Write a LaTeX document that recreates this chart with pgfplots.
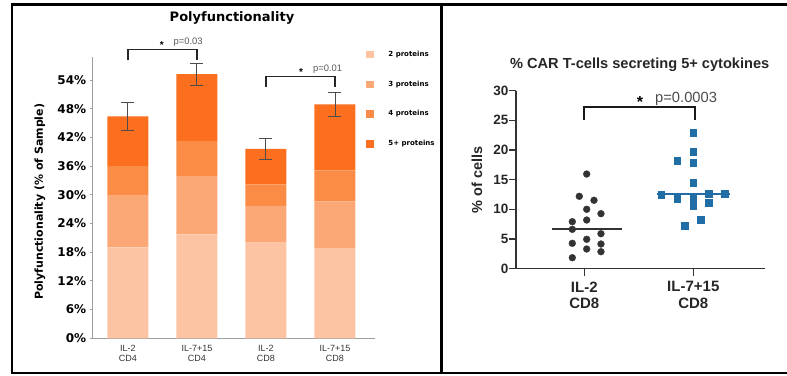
\documentclass[border=0pt]{standalone}
\usepackage{pgfplots}
\pgfplotsset{compat=1.18}
\usepackage{fontspec}
\setmainfont{Liberation Sans}
\newfontfamily\dv{DejaVu Sans}
\definecolor{pA}{HTML}{FDC4A4}
\definecolor{pB}{HTML}{FBA876}
\definecolor{pC}{HTML}{FB8C45}
\definecolor{pD}{HTML}{FB6F1E}
\definecolor{sq}{HTML}{216DA6}
\definecolor{dk}{HTML}{333333}
\pgfplotsset{every axis title shift=0pt}
\begin{document}
\begin{tikzpicture}[x=1pt,y=1pt]
\path[use as bounding box] (0pt,0pt) rectangle (787pt,375pt);
% frames
\draw[line width=2.4pt] (12pt,2pt) rectangle (441.3pt,370.3pt);
\draw[line width=2.4pt] (441.3pt,370.3pt) -- (800pt,370.3pt);
\draw[line width=2.4pt] (441.3pt,2pt) -- (800pt,2pt);

% ---------------- left panel ----------------
\begin{axis}[
  at={(92.7pt,36.7pt)}, anchor=south west, scale only axis,
  width=282.3pt, height=281.3pt,
  xmin=-0.51, xmax=3.58, ymin=0, ymax=58.8,
  ybar stacked, bar width=41pt,
  axis x line*=bottom, axis y line*=left,
  axis line style={-, draw=gray!75, line width=0.8pt},
  xtick={0,1,2,3},
  xticklabels={{IL-2\\CD4},{IL-7+15\\CD4},{IL-2\\CD8},{IL-7+15\\CD8}},
  xticklabel style={align=center, font=\fontsize{9}{10.7}\selectfont, text=black!80},
  major x tick style={draw=none},
  ytick={0,6,12,18,24,30,36,42,48,54},
  yticklabels={0\%,6\%,12\%,18\%,24\%,30\%,36\%,42\%,48\%,54\%},
  yticklabel style={font=\dv\bfseries\fontsize{12}{14}\selectfont},
  major y tick style={draw=gray!75, line width=0.8pt},
  tick align=outside, major tick length=3pt,
  clip=false,
  title={Polyfunctionality},
  title style={at={(rel axis cs:0.4934,1.1387)}, anchor=center, font=\dv\bfseries\fontsize{13}{15}\selectfont},
  ylabel={Polyfunctionality (\% of Sample)},
  ylabel style={at={(rel axis cs:-0.1867,0.485)}, anchor=center, font=\dv\bfseries\fontsize{11}{13}\selectfont},
  legend style={at={(rel axis cs:0.968,1.0228)}, anchor=north west, draw=none, fill=none,
    inner sep=0pt, row sep=22.4pt, column sep=0pt,
    nodes={inner sep=0pt, anchor=west},
    font=\dv\bfseries\fontsize{7}{8}\selectfont},
  legend cell align=left,
  legend image code/.code={\fill[#1,draw=none] (0pt,-3.7pt) rectangle (7.4pt,3.7pt);\path (22.3pt,0pt);},
]
\addplot[fill=pA, draw=none] coordinates {(0,19.0) (1,21.7) (2,20.0) (3,18.9)};
\addlegendentry{2 proteins}
\addplot[fill=pB, draw=none] coordinates {(0,11.0) (1,12.2) (2,7.7) (3,9.7)};
\addlegendentry{3 proteins}
\addplot[fill=pC, draw=none] coordinates {(0,6.0) (1,7.3) (2,4.5) (3,6.5)};
\addlegendentry{4 proteins}
\addplot[fill=pD, draw=none] coordinates {(0,10.4) (1,14.0) (2,7.4) (3,13.8)};
\addlegendentry{5+ proteins}
% significance brackets
\draw[line width=1.3pt, black!85] (axis cs:0,58.1) -- (axis cs:0,60.3) -- (axis cs:1,60.3) -- (axis cs:1,58.1);
\node[font=\bfseries\fontsize{10}{12}\selectfont, anchor=center] at (axis cs:0.49,61.3) {*};
\node[font=\fontsize{9.4}{11}\selectfont, text=black!65, anchor=west, inner sep=0pt] at (axis cs:0.66,61.9) {p=0.03};
\draw[line width=1.3pt, black!85] (axis cs:2,52.6) -- (axis cs:2,54.7) -- (axis cs:3,54.7) -- (axis cs:3,52.6);
\node[font=\bfseries\fontsize{10}{12}\selectfont, anchor=center] at (axis cs:2.51,55.7) {*};
\node[font=\fontsize{9.4}{11}\selectfont, text=black!65, anchor=west, inner sep=0pt] at (axis cs:2.68,56.3) {p=0.01};
\end{axis}

% error bars overlay
\begin{axis}[
  at={(92.7pt,36.7pt)}, anchor=south west, scale only axis,
  width=282.3pt, height=281.3pt,
  xmin=-0.51, xmax=3.58, ymin=0, ymax=58.8,
  hide axis, clip=false,
]
\addplot[draw=none, mark=none,
  error bars/.cd, y dir=both, y explicit,
  error bar style={draw=black!70, line width=0.9pt},
  error mark options={draw=black!70, line width=0.9pt, mark size=6.5pt, rotate=90}]
  coordinates {(0,46.4) +- (0,2.9) (1,55.2) +- (0,2.25) (2,39.6) +- (0,2.2) (3,48.9) +- (0,2.55)};
\end{axis}

% ---------------- right panel ----------------
\begin{axis}[
  at={(516pt,106.5pt)}, anchor=south west, scale only axis,
  width=249pt, height=177.8pt,
  xmin=0.3734, xmax=2.658, ymin=0, ymax=30,
  axis x line*=bottom, axis y line*=left,
  axis line style={-, draw=black!80, line width=1.3pt},
  xtick={1,2}, xticklabels={{IL-2\\CD8},{IL-7+15\\CD8}},
  xticklabel style={align=center, font=\bfseries\fontsize{15}{16.3}\selectfont, text=black!85, yshift=-2.5pt},
  ytick={0,5,10,15,20,25,30}, yticklabels={0,5,10,15,20,25,30},
  yticklabel style={font=\bfseries\fontsize{13.5}{15}\selectfont, text=black!85, xshift=3pt},
  tick align=outside, major tick length=7pt,
  tick style={draw=black!80, line width=1.3pt},
  clip=false,
  title={\% CAR T-cells secreting 5+ cytokines},
  title style={at={(rel axis cs:0.4968,1.1445)}, anchor=center, font=\bfseries\fontsize{14.6}{16}\selectfont, text=black!85},
  ylabel={\% of cells},
  ylabel style={at={(rel axis cs:-0.1566,0.5)}, anchor=center, font=\bfseries\fontsize{14.5}{16}\selectfont, text=black!85},
]
\addplot[only marks, mark=*, mark size=3.4pt, mark options={fill=dk, draw=dk}] coordinates {
 (1.022,15.94) (0.954,12.18) (1.089,11.51) (1.022,9.99) (1.153,9.25)
 (0.890,7.90) (1.022,8.18) (0.890,6.61) (1.153,5.87) (0.890,4.25)
 (1.022,4.93) (1.153,4.13) (1.022,3.29) (1.153,2.83) (0.890,1.82)};
\addplot[dk, line width=1.4pt] coordinates {(0.70,6.65) (1.35,6.65)};
\addplot[only marks, mark=square*, mark size=3.4pt, mark options={fill=sq, draw=sq}] coordinates {
 (2.0,22.91) (2.0,19.71) (1.853,18.19) (2.0,17.80) (2.0,14.48)
 (1.706,12.45) (1.853,11.84) (2.0,12.01) (2.144,12.57) (2.0,10.66)
 (2.144,11.10) (2.07,8.18) (1.921,7.22) (2.29,12.57)};
\addplot[sq, line width=1.4pt] coordinates {(1.664,12.57) (2.336,12.57)};
\draw[line width=1.7pt, black!90] (axis cs:1,25.05) -- (axis cs:1,27.3) -- (axis cs:2.016,27.3) -- (axis cs:2.016,25.05);
\node[font=\bfseries\fontsize{16}{17}\selectfont, anchor=center] at (axis cs:1.511,28.1) {*};
\node[font=\fontsize{14.7}{17}\selectfont, text=black!70, anchor=west, inner sep=0pt] at (axis cs:1.649,28.7) {p=0.0003};
\end{axis}
\end{tikzpicture}
\end{document}
